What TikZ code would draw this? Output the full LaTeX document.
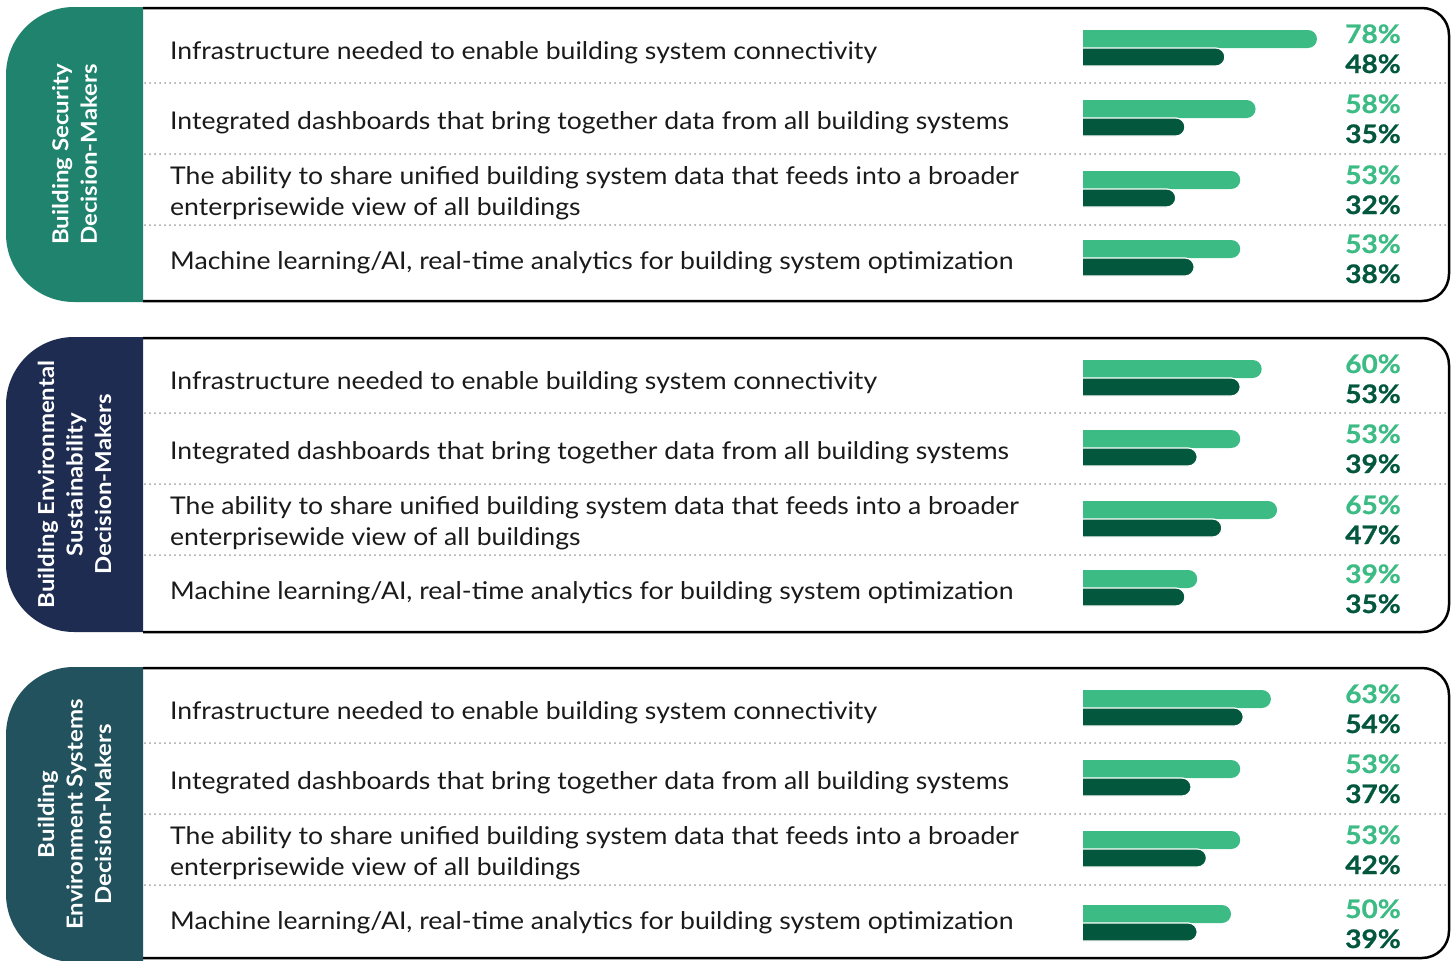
\documentclass[tikz,border=0pt]{standalone}
\usepackage{fontspec}
\setmainfont{Lato}[FakeStretch=1.09]
\newfontfamily\pctfont{Lato}[FakeStretch=1.1, BoldFeatures={FakeBold=0.8}]
\definecolor{tabA}{HTML}{1F836E}
\definecolor{tabB}{HTML}{1E2C51}
\definecolor{tabC}{HTML}{21525E}
\definecolor{lightbar}{HTML}{3DBB85}
\definecolor{darkbar}{HTML}{03573D}
\definecolor{txt}{HTML}{1A1A1A}
\definecolor{dotgray}{HTML}{A0A0A0}
\tikzset{
  rowtext/.style={anchor=base west, inner sep=0pt, text=txt, font=\fontsize{24.4}{28}\selectfont},
  pctlight/.style={anchor=base east, inner sep=0pt, text=lightbar, font=\pctfont\bfseries\fontsize{25.5}{25}\selectfont},
  pctdark/.style={pctlight, text=darkbar},
  tablabel/.style={rotate=90, text=white, align=center, inner sep=0pt, font=\bfseries\fontsize{22}{28.5}\selectfont},
  divider/.style={draw=dotgray, line width=2pt, dash pattern=on 0pt off 5pt, line cap=round},
  frameline/.style={draw=black, line width=2.5pt, rounded corners=27pt},
  lbar/.style={fill=lightbar, rounded corners=9pt},
  dbar/.style={fill=darkbar, draw=white, line width=1.2pt, rounded corners=9pt},
}
\newcommand\rowbars[4]{%
  \fill[lbar] (1083,#1) -- ({1077.5+3.07*#2},#1) -- ({1077.5+3.07*#2},{#1+18}) -- (1083,{#1+18});
  \filldraw[dbar] (1083,{#1+18}) -- ({1077.5+3.07*#3},{#1+18}) -- ({1077.5+3.07*#3},{#1+36}) -- (1083,{#1+36});
  \node[pctlight] (#4l) at (1401,{#1+13}) {#2\%};
  \node[pctdark] (#4d) at (1401,{#1+43}) {#3\%};
}
\begin{document}
\begin{tikzpicture}[x=1pt,y=-1pt]
\useasboundingbox (0,0) rectangle (1452,961);
\foreach \p/\dy/\fb/\col/\lab in {
  1/0/301/tabA/{Building Security\\Decision-Makers},
  2/330/632/tabB/{Building Environmental\\Sustainability\\Decision-Makers},
  3/660/958/tabC/{Building\\Environment Systems\\Decision-Makers}}{
  \begin{scope}
    \clip (0,0) rectangle (143,961);
    \fill[\col, rounded corners=68pt] (6,{7+\dy}) rectangle (300,{302+\dy});
  \end{scope}
  \draw[frameline] (143,{8+\dy}) -- (1449,{8+\dy}) -- (1449,\fb) -- (143,\fb);
  \foreach \yy in {83,154,225}{
    \draw[divider] (145,{\yy+\dy}) -- (1446,{\yy+\dy});
  }
  \node[tablabel] (tab\p) at (74.5,{154.5+\dy}) {\lab};
  \node[rowtext] (a\p) at (170,{59+\dy}) {Infrastructure needed to enable building system connectivity};
  \node[rowtext] (b\p) at (170,{129+\dy}) {Integrated dashboards that bring together data from all building systems};
  \node[rowtext] (c\p) at (170,{184+\dy}) {The ability to share unified building system data that feeds into a broader};
  \node[rowtext] (cc\p) at (170,{215+\dy}) {enterprisewide view of all buildings};
  \node[rowtext] (d\p) at (170,{269+\dy}) {Machine learning/AI, real-time analytics for building system optimization};
}
\rowbars{30}{78}{48}{pa1}
\rowbars{100}{58}{35}{pa2}
\rowbars{171}{53}{32}{pa3}
\rowbars{240}{53}{38}{pa4}
\rowbars{360}{60}{53}{pb1}
\rowbars{430}{53}{39}{pb2}
\rowbars{501}{65}{47}{pb3}
\rowbars{570}{39}{35}{pb4}
\rowbars{690}{63}{54}{pc1}
\rowbars{760}{53}{37}{pc2}
\rowbars{831}{53}{42}{pc3}
\rowbars{905}{50}{39}{pc4}
\end{tikzpicture}
\end{document}
